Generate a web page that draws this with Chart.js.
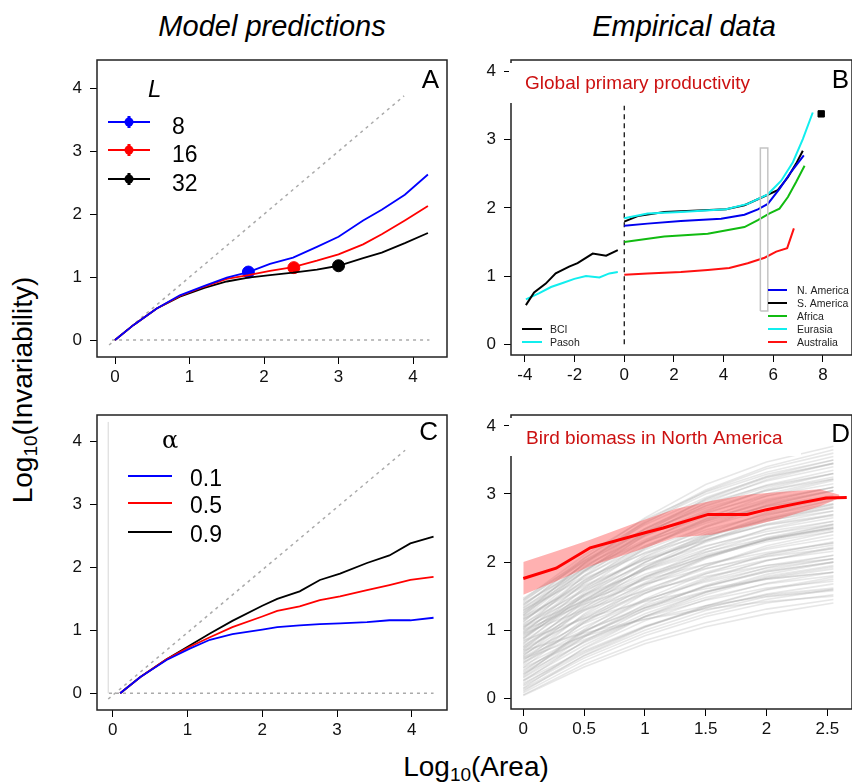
<!DOCTYPE html>
<html>
<head>
<meta charset="utf-8">
<script src="https://cdn.jsdelivr.net/npm/chart.js@4.4.1/dist/chart.umd.min.js"></script>
<style>
  body { margin: 0; width: 852px; height: 782px; overflow: hidden; background: #fff; position: relative;
         font-family: "Liberation Sans", Arial, sans-serif; }
  canvas { position: absolute; }
  .lab { position: absolute; white-space: nowrap; color: #000; line-height: 1; }
  .lab sub { font-size: 0.68em; vertical-align: -0.28em; line-height: 0; }
  .head { top: 12px; font-size: 29px; font-style: italic; transform: translateX(-50%); }
</style>
</head>
<body>
<div class="lab head" style="left:272px">Model predictions</div>
<div class="lab head" style="left:684px">Empirical data</div>
<div class="lab" style="left:23px; top:390px; font-size:28px; transform: translate(-50%,-50%) rotate(-90deg);">Log<sub>10</sub>(Invariability)</div>
<div class="lab" style="left:476px; top:753px; font-size:28px; transform: translateX(-50%);">Log<sub>10</sub>(Area)</div>

<canvas id="panelA"></canvas>
<canvas id="panelB"></canvas>
<canvas id="panelC"></canvas>
<canvas id="panelD"></canvas>

<script>
// ---- tick labels ----
const ticks0to4 = [0, 1, 2, 3, 4];
const ticksB = [-4, -2, 0, 2, 4, 6, 8];
const ticksD = [0, 0.5, 1, 1.5, 2, 2.5];

// ---- A: model predictions, landscape size L ----
const sizeLabels = ['8', '16', '32'];
const modelAX = [0, 0.25, 0.56, 0.87, 1.2, 1.5, 1.79, 2.08, 2.39, 2.71, 3.0, 3.33, 3.58, 3.89, 4.2];
const invL8 = [0, 0.24, 0.50, 0.71, 0.86, 0.99, 1.08, 1.21, 1.31, 1.48, 1.64, 1.90, 2.07, 2.31, 2.63];
const invL16 = [0, 0.24, 0.50, 0.70, 0.85, 0.97, 1.03, 1.10, 1.16, 1.26, 1.36, 1.52, 1.68, 1.90, 2.13];
const invL32 = [0, 0.24, 0.50, 0.69, 0.83, 0.93, 0.99, 1.03, 1.07, 1.12, 1.18, 1.30, 1.39, 1.54, 1.70];
const cornerX = [1.79, 2.4, 3.0];
const cornerY = [1.08, 1.15, 1.18];

// reference lines (slope 1 and zero)
const diagAX = [-0.08, 3.88];
const diagAY = [-0.08, 3.88];
const zeroAX = [-0.04, 4.22];
const diagCX = [-0.06, 3.91];
const diagCY = [-0.09, 3.86];
const zeroCX = [-0.05, 4.29];
const edgeCX = [-0.06, -0.06];
const edgeCY = [0, 4.31];

// ---- B: global primary productivity ----
const bciX = [-3.96, -3.63, -3.16, -2.76, -2.22, -1.88, -1.27, -0.73, -0.26];
const bciY = [0.575, 0.76, 0.89, 1.04, 1.14, 1.19, 1.33, 1.30, 1.38];
const pasohX = [-3.96, -3.42, -2.95, -2.48, -2.01, -1.54, -1.0, -0.6, -0.26];
const pasohY = [0.66, 0.75, 0.84, 0.90, 0.96, 1.0, 0.98, 1.04, 1.06];
const nAmericaX = [0, 0.94, 2.28, 3.9, 4.84, 5.38, 5.78, 6.25, 6.72, 7.23];
const nAmericaY = [1.74, 1.77, 1.81, 1.84, 1.90, 1.98, 2.06, 2.28, 2.53, 2.77];
const sAmericaX = [0, 0.54, 1.61, 4.1, 4.84, 5.51, 6.18, 6.59, 6.92, 7.19];
const sAmericaY = [1.80, 1.88, 1.94, 1.98, 2.04, 2.15, 2.26, 2.45, 2.65, 2.84];
const africaX = [0, 1.61, 3.36, 4.84, 5.38, 5.85, 6.25, 6.59, 6.92, 7.26];
const africaY = [1.50, 1.58, 1.62, 1.72, 1.82, 1.92, 1.99, 2.16, 2.38, 2.62];
const eurasiaX = [0, 0.94, 2.28, 4.1, 4.97, 5.78, 6.32, 6.79, 7.19, 7.59];
const eurasiaY = [1.85, 1.92, 1.94, 1.98, 2.06, 2.20, 2.40, 2.67, 3.01, 3.40];
const australiaX = [0, 0.94, 2.28, 3.36, 4.23, 4.97, 5.65, 6.12, 6.56, 6.83];
const australiaY = [1.02, 1.04, 1.06, 1.09, 1.12, 1.19, 1.27, 1.36, 1.41, 1.70];
const globeX = [7.93];
const globeY = [3.38];
const splitX = [0, 0];
const splitY = [0, 3.5];
const windowX = [5.48, 5.78, 5.78, 5.48, 5.48];
const windowY = [0.49, 0.49, 2.88, 2.88, 0.49];

// ---- C: model predictions, alpha ----
const alphaLabels = ['0.1', '0.5', '0.9'];
const modelCX = [0.1, 0.37, 0.72, 1.03, 1.3, 1.6, 2.0, 2.2, 2.5, 2.77, 3.04, 3.4, 3.7, 3.98, 4.29];
const invA01 = [0, 0.26, 0.53, 0.71, 0.85, 0.94, 1.01, 1.05, 1.08, 1.10, 1.11, 1.13, 1.16, 1.16, 1.20];
const invA05 = [0, 0.26, 0.54, 0.74, 0.89, 1.05, 1.22, 1.31, 1.38, 1.48, 1.54, 1.64, 1.72, 1.80, 1.85];
const invA09 = [0, 0.26, 0.54, 0.76, 0.95, 1.15, 1.39, 1.50, 1.62, 1.80, 1.90, 2.07, 2.19, 2.38, 2.49];

// ---- D: bird biomass in North America ----
const birdMeanX = [0, 0.27, 0.55, 1.0, 1.15, 1.52, 1.84, 2.0, 2.28, 2.49, 2.66];
const birdMeanY = [1.76, 1.91, 2.21, 2.43, 2.50, 2.70, 2.70, 2.77, 2.87, 2.94, 2.95];
const bandX = [0, 0.27, 0.55, 0.96, 1.25, 1.55, 1.84, 2.1, 2.44, 2.6];
const bandHi = [2.00, 2.16, 2.33, 2.60, 2.78, 2.90, 2.99, 3.03, 3.07, 2.99];
const bandLo = [1.52, 1.72, 1.94, 2.18, 2.36, 2.40, 2.52, 2.63, 2.82, 2.94];
const routeX = [0, 0.5, 1, 1.5, 2, 2.55];
const birdRoutes = [
  [0.05, 0.50, 0.85, 1.11, 1.31, 1.45],
  [0.12, 0.59, 0.96, 1.24, 1.45, 1.60],
  [0.20, 0.73, 1.14, 1.45, 1.69, 1.85],
  [0.25, 0.84, 1.30, 1.66, 1.92, 2.10],
  [0.30, 0.83, 1.24, 1.55, 1.79, 1.95],
  [0.35, 0.97, 1.46, 1.83, 2.11, 2.30],
  [0.40, 0.98, 1.43, 1.77, 2.02, 2.20],
  [0.45, 1.12, 1.65, 2.05, 2.34, 2.55],
  [0.50, 1.11, 1.58, 1.94, 2.21, 2.40],
  [0.55, 1.24, 1.78, 2.18, 2.49, 2.70],
  [0.60, 1.13, 1.54, 1.85, 2.09, 2.25],
  [0.62, 1.33, 1.89, 2.31, 2.63, 2.85],
  [0.68, 1.29, 1.77, 2.14, 2.41, 2.60],
  [0.72, 1.43, 1.99, 2.41, 2.73, 2.95],
  [0.75, 1.31, 1.75, 2.08, 2.33, 2.50],
  [0.80, 1.52, 2.08, 2.51, 2.83, 3.05],
  [0.83, 1.44, 1.92, 2.29, 2.56, 2.75],
  [0.88, 1.62, 2.20, 2.64, 2.97, 3.20],
  [0.90, 1.46, 1.90, 2.23, 2.48, 2.65],
  [0.95, 1.70, 2.29, 2.74, 3.07, 3.30],
  [0.98, 1.59, 2.07, 2.44, 2.71, 2.90],
  [1.02, 1.80, 2.40, 2.87, 3.21, 3.45],
  [1.05, 1.61, 2.05, 2.38, 2.63, 2.80],
  [1.08, 1.73, 2.23, 2.62, 2.90, 3.10],
  [1.12, 1.86, 2.44, 2.93, 3.26, 3.50],
  [1.15, 1.73, 2.18, 2.52, 2.77, 2.95],
  [1.18, 1.87, 2.42, 2.83, 3.13, 3.35],
  [1.22, 1.87, 2.38, 2.76, 3.05, 3.25],
  [1.25, 1.98, 2.57, 3.04, 3.37, 3.60],
  [1.28, 1.85, 2.29, 2.63, 2.87, 3.05],
  [1.32, 1.97, 2.49, 2.90, 3.19, 3.40],
  [1.35, 2.05, 2.65, 3.14, 3.47, 3.70],
  [1.38, 1.95, 2.39, 2.73, 2.97, 3.15],
  [1.42, 2.06, 2.58, 3.00, 3.29, 3.50],
  [1.47, 2.02, 2.48, 2.86, 3.12, 3.30],
  [0.15, 0.74, 1.20, 1.56, 1.82, 2.00],
  [0.58, 0.91, 1.16, 1.36, 1.50, 1.60],
  [0.85, 1.17, 1.42, 1.61, 1.75, 1.85],
  [1.00, 1.38, 1.68, 1.91, 2.08, 2.20],
  [0.70, 0.96, 1.16, 1.31, 1.42, 1.50],
  [0.10, 0.63, 1.04, 1.35, 1.59, 1.75],
  [0.33, 1.01, 1.54, 1.94, 2.24, 2.45],
  [0.48, 0.93, 1.29, 1.56, 1.76, 1.90],
  [0.65, 1.10, 1.45, 1.71, 1.91, 2.05],
  [0.78, 1.28, 1.67, 1.97, 2.19, 2.35],
  [0.92, 1.41, 1.79, 2.08, 2.30, 2.45],
  [1.10, 1.58, 1.96, 2.24, 2.45, 2.60],
  [1.30, 1.76, 2.13, 2.40, 2.61, 2.75],
  [0.22, 0.68, 1.05, 1.33, 1.52, 1.62],
  [0.38, 0.90, 1.33, 1.64, 1.86, 2.00],
  [0.88, 1.50, 2.00, 2.38, 2.65, 2.85],
  [1.20, 1.66, 2.04, 2.33, 2.55, 2.70],
  [0.08, 0.55, 0.92, 1.20, 1.40, 1.52],
  [0.18, 0.66, 1.05, 1.36, 1.60, 1.78],
  [0.27, 0.78, 1.20, 1.52, 1.77, 1.93],
  [0.31, 0.90, 1.38, 1.75, 2.02, 2.22],
  [0.42, 0.92, 1.33, 1.64, 1.88, 2.05],
  [0.52, 1.16, 1.68, 2.07, 2.36, 2.55],
  [0.57, 1.05, 1.44, 1.73, 1.95, 2.10],
  [0.63, 1.22, 1.70, 2.06, 2.33, 2.52],
  [0.66, 1.37, 1.93, 2.36, 2.68, 2.92],
  [0.71, 1.20, 1.60, 1.90, 2.12, 2.28],
  [0.76, 1.40, 1.92, 2.31, 2.60, 2.80],
  [0.81, 1.34, 1.77, 2.09, 2.33, 2.50],
  [0.86, 1.55, 2.11, 2.53, 2.84, 3.05],
  [0.93, 1.52, 2.00, 2.36, 2.63, 2.82],
  [0.97, 1.44, 1.82, 2.11, 2.32, 2.48],
  [1.03, 1.68, 2.21, 2.60, 2.89, 3.10],
  [1.07, 1.52, 1.88, 2.15, 2.35, 2.50],
  [1.13, 1.78, 2.31, 2.71, 3.00, 3.22],
  [1.16, 1.64, 2.03, 2.32, 2.54, 2.68],
  [1.21, 1.92, 2.49, 2.92, 3.24, 3.45],
  [1.26, 1.80, 2.24, 2.57, 2.82, 2.98],
  [1.33, 1.88, 2.33, 2.67, 2.92, 3.10],
  [1.37, 2.02, 2.55, 2.95, 3.25, 3.45],
  [1.40, 1.90, 2.30, 2.60, 2.82, 2.95],
  [1.44, 2.00, 2.45, 2.79, 3.05, 3.22],
  [0.45, 0.86, 1.19, 1.44, 1.62, 1.72],
  [0.60, 1.00, 1.33, 1.57, 1.75, 1.85],
  [0.95, 1.30, 1.58, 1.79, 1.95, 2.05],
  [0.26, 0.70, 1.06, 1.33, 1.53, 1.68],
  [1.05, 1.43, 1.74, 1.97, 2.14, 2.28],
  [1.45, 2.10, 2.63, 3.03, 3.32, 3.55],
  [1.23, 1.98, 2.60, 3.06, 3.40, 3.65],
  [0.14, 0.62, 1.00, 1.29, 1.49, 1.58],
  [0.36, 0.82, 1.20, 1.48, 1.68, 1.80],
  [0.53, 0.98, 1.36, 1.65, 1.86, 2.00],
  [0.74, 1.18, 1.55, 1.83, 2.03, 2.16],
  [1.01, 1.49, 1.89, 2.19, 2.41, 2.56],
  [1.17, 1.70, 2.14, 2.47, 2.70, 2.86],
  [1.29, 1.92, 2.43, 2.82, 3.10, 3.30],
  [0.04, 0.46, 0.80, 1.05, 1.24, 1.40]
];

// ---- layout ----
const FONT = '"Liberation Sans", Arial, sans-serif';
Chart.defaults.font.family = FONT;
Chart.defaults.color = '#111';

const boxes = {
  panelA: { l: 97, t: 60, r: 447, b: 357 },
  panelB: { l: 511, t: 60, r: 852, b: 355 },
  panelC: { l: 97, t: 415, r: 447, b: 710 },
  panelD: { l: 511, t: 415, r: 852, b: 709 },
};

const pts = (xs, ys) => xs.map((x, i) => ({ x, y: ys[i] }));

function line(xs, ys, color, width, extra) {
  return Object.assign({
    data: pts(xs, ys), borderColor: color, backgroundColor: color, borderWidth: width,
    showLine: true, pointRadius: 0, fill: false, tension: 0,
  }, extra || {});
}

function dotted(xs, ys) {
  return line(xs, ys, '#aaa', 1.5, { borderDash: [3, 4] });
}

function axis(min, max, values, isY) {
  return {
    type: 'linear', min, max,
    afterBuildTicks: s => { s.ticks = values.map(v => ({ value: v })); },
    afterFit: s => {
      // fixed axis band, no extra room for half labels
      if (isY) { s.width = 45; s.paddingTop = 0; s.paddingBottom = 0; }
      else { s.height = 40; s.paddingLeft = 0; s.paddingRight = 0; }
    },
    grid: { drawOnChartArea: false, drawTicks: true, tickLength: 7, color: '#000', lineWidth: 1 },
    border: { display: false },
    ticks: { color: '#111', font: { size: 17 }, padding: isY ? 8 : 3, maxRotation: 0, autoSkip: false,
             callback: v => String(v) },
  };
}

// frame, white title patch and panel texts, drawn in page coordinates
function overlay(id, draw) {
  return {
    id: 'overlay',
    afterDatasetsDraw(chart) {
      const { ctx, chartArea: a } = chart;
      const box = boxes[id];
      ctx.save();
      ctx.strokeStyle = '#222';
      ctx.lineWidth = 1.5;
      ctx.strokeRect(a.left, a.top, a.right - a.left, a.bottom - a.top);
      ctx.translate(-(box.l - 45), -(box.t - 10));
      draw(ctx, box);
      ctx.restore();
    }
  };
}

function text(ctx, str, x, y, font, color, align) {
  ctx.font = font;
  ctx.fillStyle = color || '#000';
  ctx.textAlign = align || 'left';
  ctx.textBaseline = 'alphabetic';
  ctx.fillText(str, x, y);
}

function legendLine(ctx, x1, x2, y, color, width) {
  ctx.strokeStyle = color;
  ctx.lineWidth = width;
  ctx.setLineDash([]);
  ctx.beginPath(); ctx.moveTo(x1, y); ctx.lineTo(x2, y); ctx.stroke();
}

function makePanel(id, xr, yr, xTicks, datasets, draw) {
  const box = boxes[id];
  const cv = document.getElementById(id);
  const w = box.r - box.l + 55, h = box.b - box.t + 50;
  cv.width = w; cv.height = h;
  cv.style.width = w + 'px'; cv.style.height = h + 'px';
  cv.style.left = (box.l - 45) + 'px'; cv.style.top = (box.t - 10) + 'px';
  return new Chart(cv, {
    type: 'scatter',
    data: { datasets },
    options: {
      animation: false, responsive: false, events: [],
      layout: { padding: { left: 0, top: 10, right: 10, bottom: 0 } },
      plugins: { legend: { display: false }, tooltip: { enabled: false } },
      scales: { x: axis(xr[0], xr[1], xTicks, false), y: axis(yr[0], yr[1], ticks0to4, true) },
    },
    plugins: [overlay(id, draw)],
  });
}

const seriesColors = ['#0000ff', '#ff0000', '#000000'];

// ---- panel A ----
makePanel('panelA', [-0.242, 4.456], [-0.27, 4.45], ticks0to4, [
  line(modelAX, invL8, seriesColors[0], 1.8),
  line(modelAX, invL16, seriesColors[1], 1.8),
  line(modelAX, invL32, seriesColors[2], 1.8),
  { data: pts(cornerX, cornerY), backgroundColor: seriesColors, borderColor: seriesColors,
    pointRadius: 6, pointStyle: 'circle', showLine: false },
  dotted(diagAX, diagAY),
  dotted(zeroAX, [0, 0]),
], (ctx, box) => {
  text(ctx, 'A', 439, 88, '26px ' + FONT, '#000', 'right');
  text(ctx, 'L', 148, 97, 'italic 24px ' + FONT);
  const rows = [122, 150, 179];
  sizeLabels.forEach((lab, i) => {
    legendLine(ctx, 108, 150, rows[i], seriesColors[i], 1.8);
    ctx.fillStyle = seriesColors[i];
    ctx.beginPath(); ctx.arc(129, rows[i], 4.5, 0, Math.PI * 2); ctx.fill();
    ctx.fillRect(127.5, rows[i] - 6, 3, 12);
    text(ctx, lab, 172, rows[i] + 12, '23px ' + FONT);
  });
});

// ---- panel B ----
const contColors = { nam: '#0000ee', sam: '#000000', afr: '#11bb11', eur: '#11eeee', aus: '#ff1111' };
makePanel('panelB', [-4.56, 9.17], [-0.157, 4.17], ticksB, [
  line(windowX, windowY, '#c4c4c4', 1.5),
  line(bciX, bciY, '#000', 2),
  line(pasohX, pasohY, contColors.eur, 2),
  line(australiaX, australiaY, contColors.aus, 2),
  line(africaX, africaY, contColors.afr, 2),
  line(nAmericaX, nAmericaY, contColors.nam, 2),
  line(eurasiaX, eurasiaY, contColors.eur, 2),
  line(sAmericaX, sAmericaY, contColors.sam, 2),
  line(splitX, splitY, '#000', 1.2, { borderDash: [5, 4] }),
  { data: pts(globeX, globeY), backgroundColor: '#000', borderColor: '#000', pointRadius: 4.5,
    pointStyle: 'rect', showLine: false },
], (ctx, box) => {
  ctx.fillStyle = '#fff';
  ctx.fillRect(box.l - 2, box.t + 3, 258, 40);
  text(ctx, 'Global primary productivity', 525, 89, '19px ' + FONT, '#cc1111');
  text(ctx, 'B', 849, 88, '26px ' + FONT, '#000', 'right');
  const names = ['N. America', 'S. America', 'Africa', 'Eurasia', 'Australia'];
  const cols = [contColors.nam, contColors.sam, contColors.afr, contColors.eur, contColors.aus];
  names.forEach((n, i) => {
    const y = 290 + i * 13;
    legendLine(ctx, 768, 787, y, cols[i], 2);
    text(ctx, n, 797, y + 4, '10.5px ' + FONT, '#222');
  });
  [['BCI', '#000'], ['Pasoh', contColors.eur]].forEach(([n, c], i) => {
    const y = 329 + i * 13;
    legendLine(ctx, 522, 542, y, c, 2);
    text(ctx, n, 550, y + 4, '10.5px ' + FONT, '#222');
  });
});

// ---- panel C ----
makePanel('panelC', [-0.21, 4.47], [-0.265, 4.42], ticks0to4, [
  line(modelCX, invA01, seriesColors[0], 1.8),
  line(modelCX, invA05, seriesColors[1], 1.8),
  line(modelCX, invA09, seriesColors[2], 1.8),
  dotted(diagCX, diagCY),
  dotted(zeroCX, [0, 0]),
  line(edgeCX, edgeCY, '#d6d6d6', 1),
], (ctx, box) => {
  text(ctx, 'C', 438, 440, '26px ' + FONT, '#000', 'right');
  text(ctx, 'α', 162, 448, '24px "DejaVu Serif", serif');
  const rows = [476, 503, 532];
  alphaLabels.forEach((lab, i) => {
    legendLine(ctx, 128, 172, rows[i], seriesColors[i], 1.8);
    text(ctx, lab, 190, rows[i] + 10, '23px ' + FONT);
  });
});

// ---- panel D ----
const routeSets = birdRoutes.map(r => line(routeX, r, 'rgba(170,170,170,0.28)', 1.6, { order: 3 }));
makePanel('panelD', [-0.101, 2.703], [-0.157, 4.16], ticksD, [
  line(birdMeanX, birdMeanY, '#ff0000', 3, { order: 0 }),
  line(bandX, bandHi, 'rgba(0,0,0,0)', 0, { order: 1, fill: '+1', backgroundColor: 'rgba(255,70,70,0.42)' }),
  line(bandX, bandLo, 'rgba(0,0,0,0)', 0, { order: 2 }),
  ...routeSets,
], (ctx, box) => {
  ctx.fillStyle = '#fff';
  ctx.fillRect(box.l - 2, box.t + 3, 292, 38);
  text(ctx, 'Bird biomass in North America', 526, 444, '19px ' + FONT, '#cc1111');
  text(ctx, 'D', 850, 442, '26px ' + FONT, '#000', 'right');
});
</script>
</body>
</html>
